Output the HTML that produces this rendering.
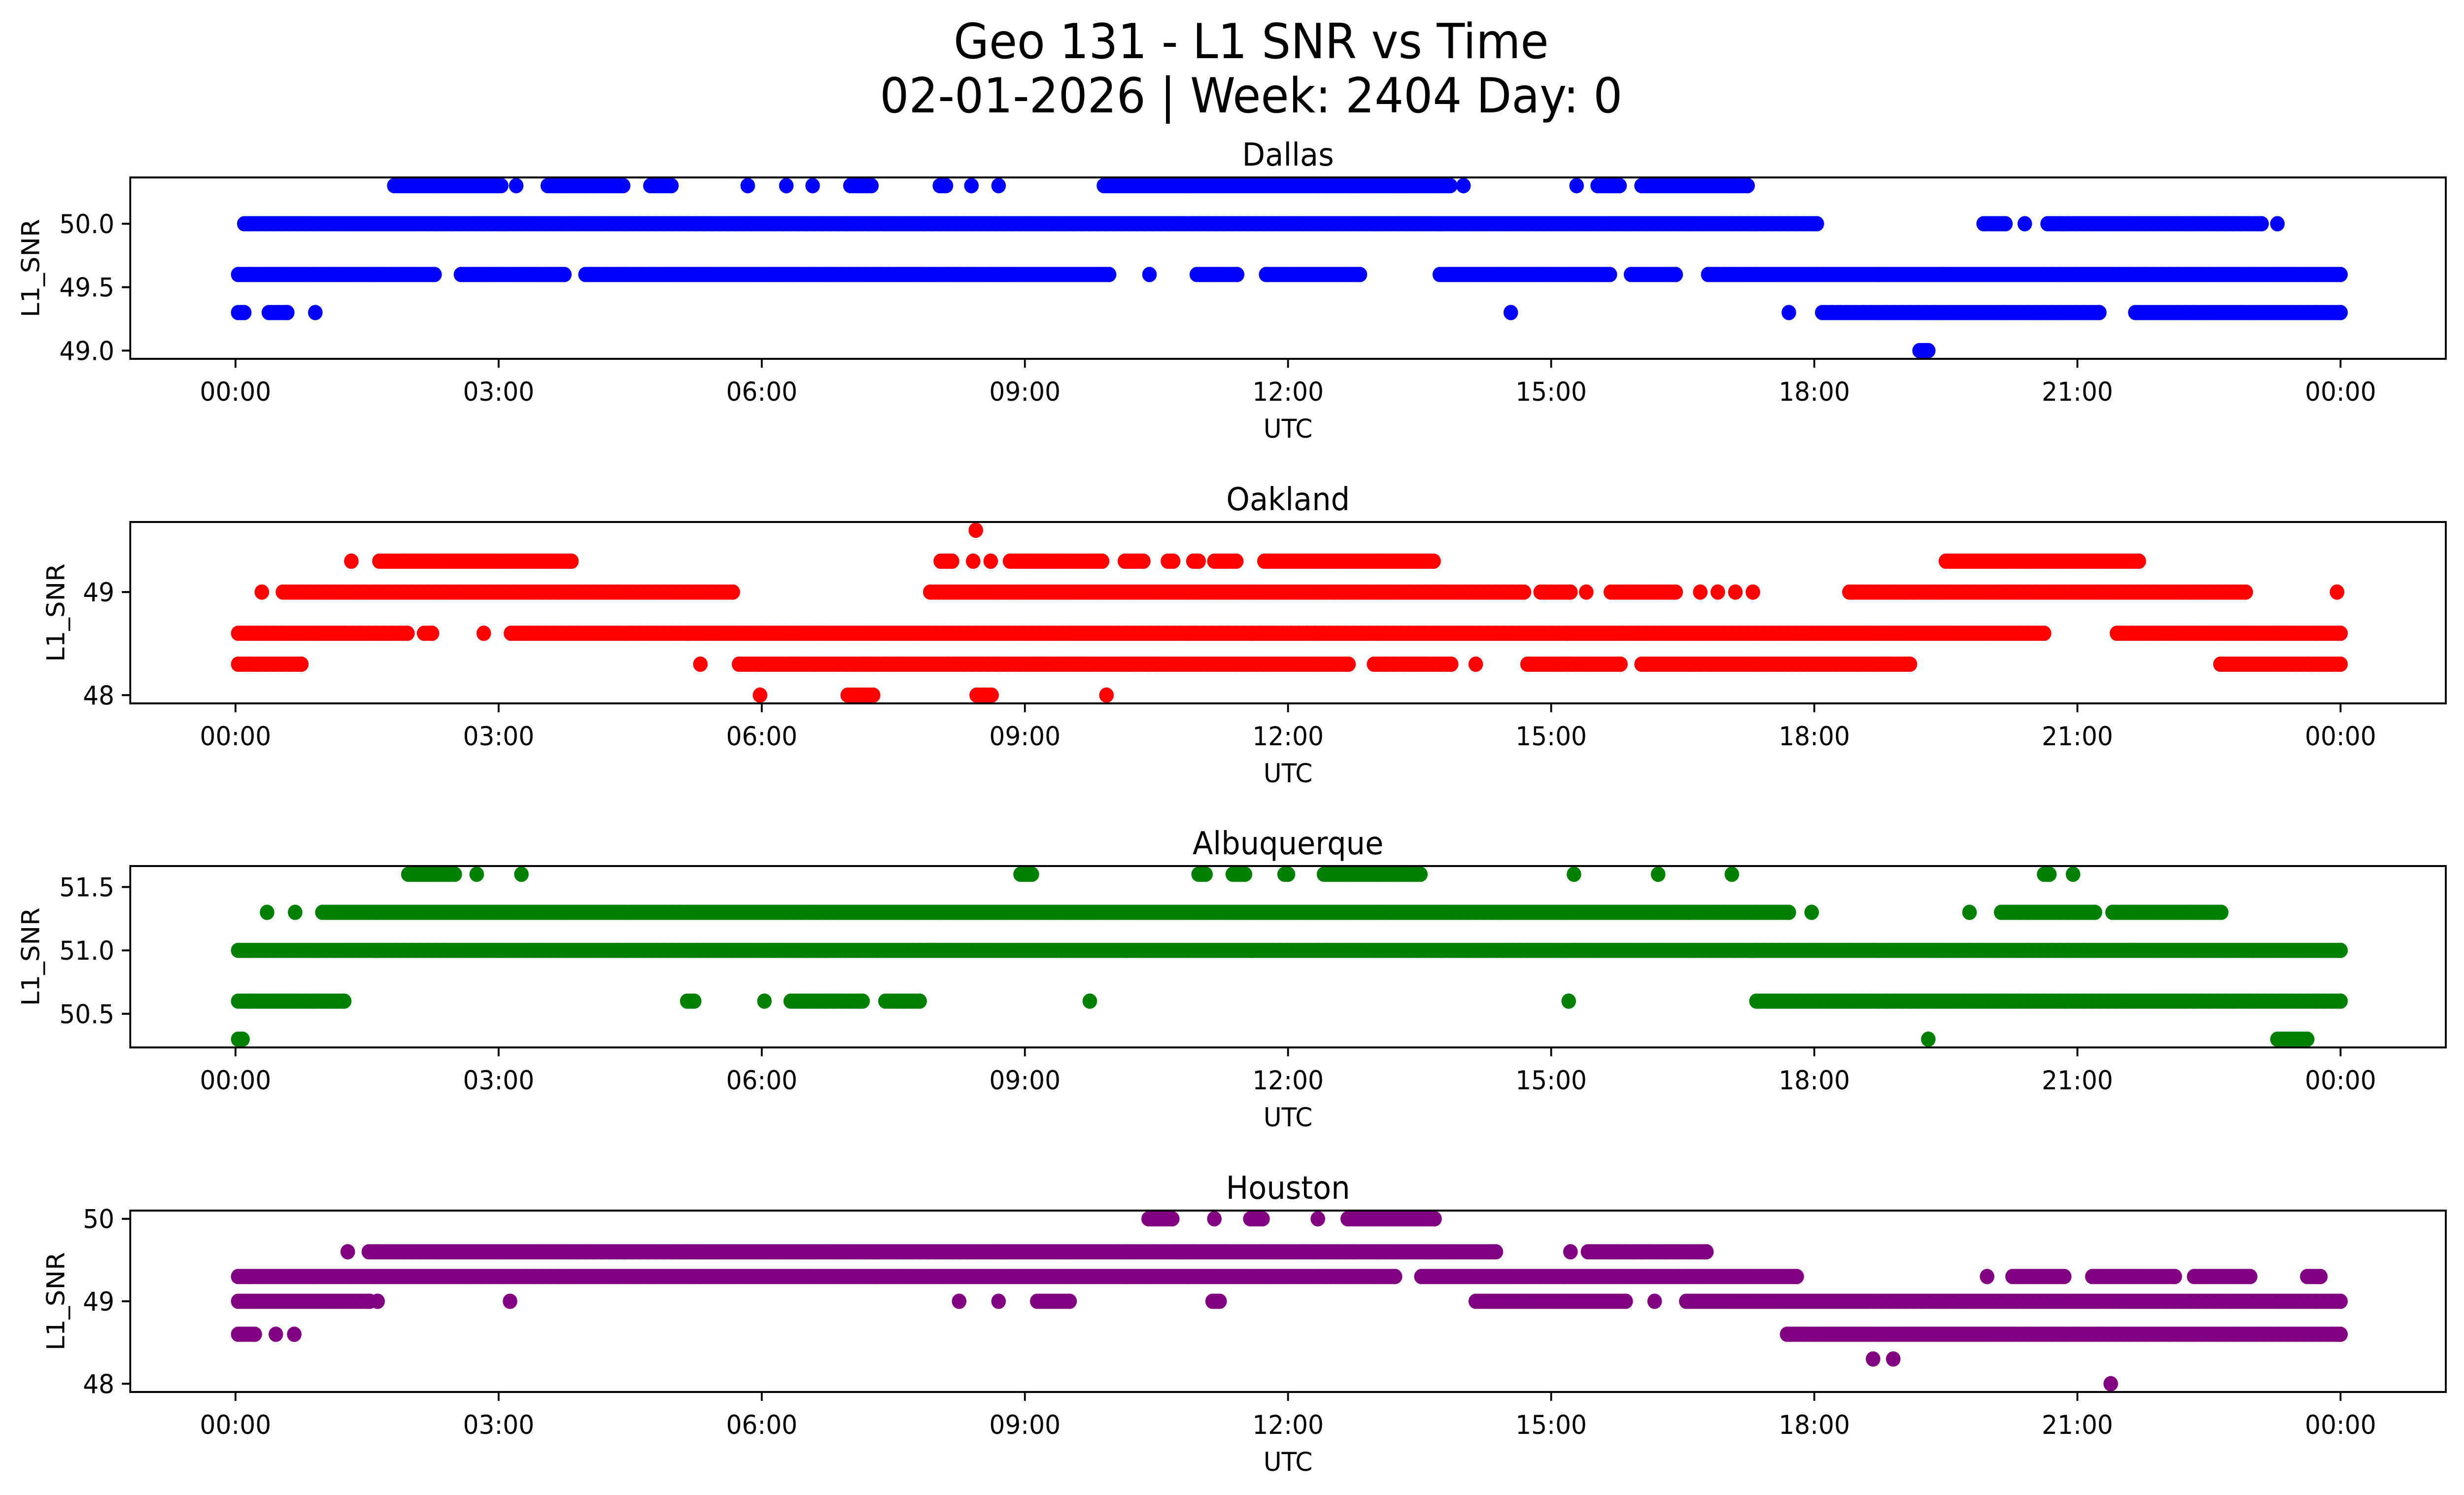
<!DOCTYPE html>
<html><head><meta charset="utf-8">
<style>
html,body{margin:0;padding:0;background:#fff;overflow:hidden;width:100%;height:100%;}
svg{display:block;width:100vw;height:100vh;font-family:"DejaVu Sans","Liberation Sans",sans-serif;}
</style></head>
<body>
<svg id="fig" viewBox="0 0 5278 3033" preserveAspectRatio="none" xmlns="http://www.w3.org/2000/svg">
<rect x="0" y="0" width="5278" height="3033" fill="#fff"/>
<text x="2680" y="118" font-size="98" text-anchor="middle">Geo 131 - L1 SNR vs Time</text>
<text x="2680" y="228" font-size="98" text-anchor="middle">02-01-2026 | Week: 2404 Day: 0</text>
</svg>
<script>
// ---- data (hours UTC; runs are [start,end] of consecutive samples per SNR level) ----
const stations = ["Dallas", "Oakland", "Albuquerque", "Houston"];
const colors = ["#0000ff", "#ff0000", "#008000", "#800080"];
const xTickHours = [0, 3, 6, 9, 12, 15, 18, 21, 24];
const xTickLabels = ["00:00","03:00","06:00","09:00","12:00","15:00","18:00","21:00","00:00"];

const dallasLevels = [50.3, 50.0, 49.6, 49.3, 49.0];
const dallasRuns = [
 [[1.81,3.03],[3.2,3.2],[3.56,4.42],[4.73,4.97],[5.84,5.84],[6.28,6.28],[6.58,6.58],[7.01,7.25],[8.03,8.1],[8.39,8.39],[8.7,8.7],[9.9,13.85],[14.0,14.0],[15.29,15.29],[15.53,15.78],[16.03,17.24]],
 [[0.1,18.03],[19.93,20.18],[20.4,20.4],[20.66,23.1],[23.28,23.28]],
 [[0.03,2.27],[2.57,3.75],[3.99,9.96],[10.42,10.42],[10.96,11.42],[11.75,12.82],[13.73,15.67],[15.91,16.42],[16.79,24.0]],
 [[0.03,0.1],[0.38,0.59],[0.91,0.91],[14.54,14.54],[17.71,17.71],[18.09,21.25],[21.66,24.0]],
 [[19.2,19.3]]
];
const dallasTicks = [49.0, 49.5, 50.0];
const dallasTickLabels = ["49.0", "49.5", "50.0"];

const oaklandLevels = [49.6, 49.3, 49.0, 48.6, 48.3, 48.0];
const oaklandRuns = [
 [[8.44,8.44]],
 [[1.32,1.32],[1.64,3.83],[8.04,8.17],[8.41,8.41],[8.61,8.61],[8.83,9.88],[10.14,10.35],[10.63,10.69],[10.92,10.98],[11.16,11.41],[11.73,13.66],[19.5,21.7]],
 [[0.3,0.3],[0.54,5.67],[7.92,14.69],[14.88,15.22],[15.4,15.4],[15.68,16.42],[16.7,16.7],[16.9,16.9],[17.1,17.1],[17.3,17.3],[18.4,22.92],[23.96,23.96]],
 [[0.03,1.96],[2.15,2.24],[2.83,2.83],[3.14,20.62],[21.45,24.0]],
 [[0.03,0.75],[5.3,5.3],[5.74,12.69],[12.98,13.86],[14.14,14.14],[14.73,15.79],[16.03,19.09],[22.63,24.0]],
 [[5.98,5.98],[6.98,7.27],[8.45,8.62],[9.93,9.93]]
];
const oaklandTicks = [48, 49];
const oaklandTickLabels = ["48", "49"];

const albuquerqueLevels = [51.6, 51.3, 51.0, 50.6, 50.3];
const albuquerqueRuns = [
 [[1.97,2.5],[2.75,2.75],[3.26,3.26],[8.95,9.08],[10.98,11.06],[11.37,11.51],[11.96,12.0],[12.41,13.51],[15.26,15.26],[16.22,16.22],[17.06,17.06],[20.62,20.68],[20.95,20.95]],
 [[0.36,0.36],[0.68,0.68],[0.99,17.71],[17.97,17.97],[19.77,19.77],[20.13,21.2],[21.4,22.64]],
 [[0.03,24.0]],
 [[0.03,1.24],[5.15,5.23],[6.03,6.03],[6.33,7.15],[7.41,7.8],[9.74,9.74],[15.2,15.2],[17.34,24.0]],
 [[0.03,0.08],[19.3,19.3],[23.28,23.62]]
];
const albuquerqueTicks = [50.5, 51.0, 51.5];
const albuquerqueTickLabels = ["50.5", "51.0", "51.5"];

const houstonLevels = [50.0, 49.6, 49.3, 49.0, 48.6, 48.3, 48.0];
const houstonRuns = [
 [[10.41,10.68],[11.16,11.16],[11.57,11.71],[12.34,12.34],[12.68,13.67]],
 [[1.28,1.28],[1.52,14.37],[15.22,15.22],[15.42,16.77]],
 [[0.03,13.22],[13.52,17.8],[19.97,19.97],[20.26,20.85],[21.17,22.11],[22.33,22.97],[23.62,23.77]],
 [[0.03,1.53],[1.62,1.62],[3.13,3.13],[8.25,8.25],[8.7,8.7],[9.14,9.51],[11.14,11.22],[14.14,15.85],[16.18,16.18],[16.54,24.0]],
 [[0.03,0.22],[0.46,0.46],[0.67,0.67],[17.69,24.0]],
 [[18.67,18.67],[18.9,18.9]],
 [[21.38,21.38]]
];
const houstonTicks = [48, 49, 50];
const houstonTickLabels = ["48", "49", "50"];

const allLevels = [dallasLevels, oaklandLevels, albuquerqueLevels, houstonLevels];
const allRuns = [dallasRuns, oaklandRuns, albuquerqueRuns, houstonRuns];
const allTicks = [dallasTicks, oaklandTicks, albuquerqueTicks, houstonTicks];
const allTickLabels = [dallasTickLabels, oaklandTickLabels, albuquerqueTickLabels, houstonTickLabels];

// ---- layout ----
const NS = "http://www.w3.org/2000/svg";
const svg = document.getElementById("fig");
const AX_L = 279, AX_R = 5239, AX_H = 368;
const axTops = [360, 1059, 1757, 2456];
const X0 = -1.2, X1 = 25.2;
const SAMPLE_STEP = 0.03;
function mk(tag, attrs, parent) {
  const e = document.createElementNS(NS, tag);
  for (const k in attrs) e.setAttribute(k, attrs[k]);
  (parent || svg).appendChild(e);
  return e;
}
function xScale(h) { return AX_L + (h - X0) / (X1 - X0) * (AX_R - AX_L); }

for (let p = 0; p < 4; p++) {
  const top = axTops[p], bot = top + AX_H;
  const levels = allLevels[p];
  const lo = Math.min(...levels), hi = Math.max(...levels);
  const pad = (hi - lo) * 0.05;
  const y0 = lo - pad, y1 = hi + pad;
  const yScale = v => bot - (v - y0) / (y1 - y0) * AX_H;

  const g = mk("g", {});
  
  

  const pts = mk("g", {fill: colors[p]}, g);
  
  
  const runs = allRuns[p];
  for (let li = 0; li < levels.length; li++) {
    const cy = yScale(levels[li]);
    for (const r of runs[li]) {
      for (let t = r[0]; t <= r[1] + 1e-9; t += SAMPLE_STEP) {
        mk("circle", {cx: xScale(t).toFixed(1), cy: cy.toFixed(1), r: 15.5}, pts);
      }
      mk("circle", {cx: xScale(r[1]).toFixed(1), cy: cy.toFixed(1), r: 15.5}, pts);
    }
  }

  const fr = mk("rect", {x: AX_L, y: top, width: AX_R - AX_L, height: AX_H, fill: "none", stroke: "#000", "stroke-width": 4}, g);
  
  

  for (let i = 0; i < xTickHours.length; i++) {
    const x = xScale(xTickHours[i]);
    const tk = mk("line", {x1: x, x2: x, y1: bot, y2: bot + 18, stroke: "#000", "stroke-width": 4}, g);
    
    
    const tl = mk("text", {x: x, y: bot + 85, "font-size": 53, "text-anchor": "middle"}, g);
    tl.textContent = xTickLabels[i];
    
    
  }
  const yt = allTicks[p], ytl = allTickLabels[p];
  for (let i = 0; i < yt.length; i++) {
    const y = yScale(yt[i]);
    const tk = mk("line", {x1: AX_L - 18, x2: AX_L, y1: y, y2: y, stroke: "#000", "stroke-width": 4}, g);
    
    
    const tl = mk("text", {x: AX_L - 34, y: y + 19, "font-size": 53, "text-anchor": "end"}, g);
    tl.textContent = ytl[i];
    
    
  }
  const xl = mk("text", {x: (AX_L + AX_R) / 2, y: bot + 160, "font-size": 53, "text-anchor": "middle"}, g);
  xl.textContent = "UTC";
  
  
  const ylx = (ytl[0].length > 2) ? 84 : 138;
  const yl = mk("text", {x: ylx, y: (top + bot) / 2, "font-size": 53, "text-anchor": "middle", transform: "rotate(-90 " + ylx + " " + ((top + bot) / 2) + ")"}, g);
  yl.textContent = "L1_SNR";
  
  
  const st = mk("text", {x: (AX_L + AX_R) / 2, y: top - 24, "font-size": 64, "text-anchor": "middle"}, g);
  st.textContent = stations[p];
  
  
}
</script>
</body></html>
